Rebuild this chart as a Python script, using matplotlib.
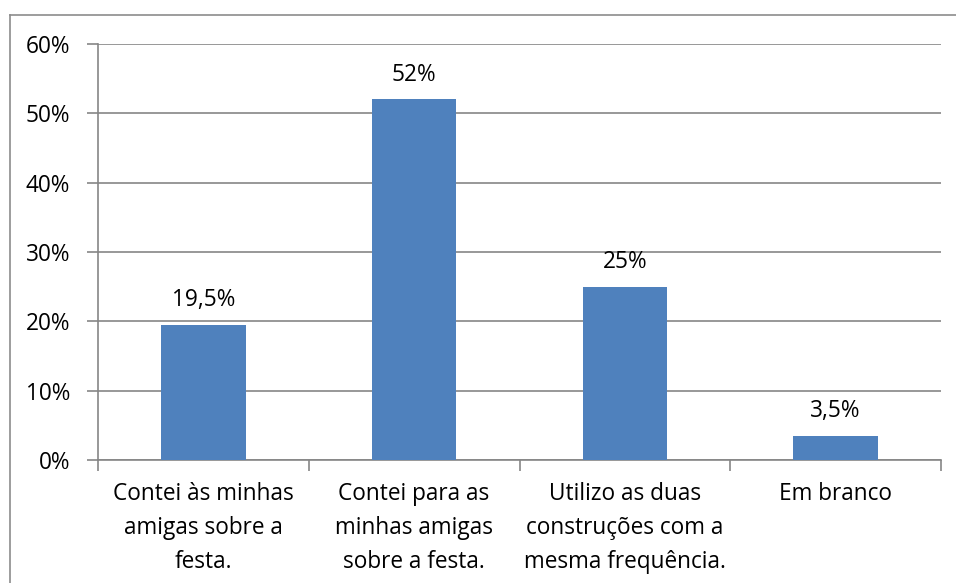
import matplotlib
matplotlib.use("Agg")
import matplotlib.pyplot as plt
from matplotlib.lines import Line2D

categories = ["Contei às minhas\namigas sobre a\nfesta.",
              "Contei para as\nminhas amigas\nsobre a festa.",
              "Utilizo as duas\nconstruções com a\nmesma frequência.",
              "Em branco"]
values = [19.5, 52, 25, 3.5]
labels = ["19,5%", "52%", "25%", "3,5%"]
yticks = [0, 10, 20, 30, 40, 50, 60]
ytick_labels = ["0%", "10%", "20%", "30%", "40%", "50%", "60%"]

plt.rcParams['font.family'] = ['Open Sans', 'DejaVu Sans']
W, H = 956, 583
fig = plt.figure(figsize=(W/100, H/100), dpi=100)
ax = fig.add_axes([98/W, 1 - 460/H, (941-98)/W, (460-44)/H])

grid_c = "#868686"
fs = 16.3
x = list(range(len(categories)))
ax.bar(x, values, width=0.4, color="#4F81BD", zorder=3)
ax.set_xlim(-0.5, len(categories) - 0.5)
ax.set_ylim(0, 60)
ax.set_yticks(yticks)
ax.set_yticklabels(ytick_labels)
ax.yaxis.grid(True, color=grid_c, linewidth=1.2, zorder=0)
ax.set_xticks(x)
ax.set_xticklabels(categories, linespacing=1.55)
ax.set_xticks([i - 0.5 for i in range(len(categories) + 1)], minor=True)
ax.tick_params(axis='x', which='major', length=0, pad=16, labelsize=fs)
ax.tick_params(axis='x', which='minor', length=8, color=grid_c, width=1.2)
ax.tick_params(axis='y', length=8, color=grid_c, width=1.2, labelsize=fs, pad=12)
for s in ['top', 'right']:
    ax.spines[s].set_visible(False)
for s in ['left', 'bottom']:
    ax.spines[s].set_color(grid_c)
    ax.spines[s].set_linewidth(1.2)

for xi, v, lab in zip(x, values, labels):
    ax.annotate(lab, (xi, v), xytext=(0, 9), textcoords='offset points',
                ha='center', va='bottom', fontsize=fs)

fig.add_artist(Line2D([10/W, 1], [1 - 15/H, 1 - 15/H], color="#8C8C8C", linewidth=1.2, transform=fig.transFigure))
fig.add_artist(Line2D([10/W, 10/W], [0, 1 - 15/H], color="#8C8C8C", linewidth=1.2, transform=fig.transFigure))

fig.savefig("out.png", dpi=100)
